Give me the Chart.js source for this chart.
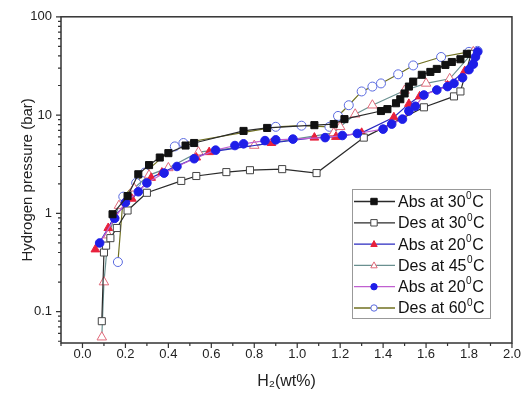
<!DOCTYPE html>
<html>
<head>
<meta charset="utf-8">
<script src="https://cdn.jsdelivr.net/npm/chart.js@4.4.1/dist/chart.umd.min.js"></script>
<style>
  html, body { margin: 0; padding: 0; background: #fff; }
  #wrap { width: 525px; height: 397px; }
</style>
</head>
<body>
<div id="wrap"><canvas id="pct" width="525" height="397"></canvas></div>
<script>
// series names (⁰ is drawn as a raised small 0 in the legend)
const seriesNames = ['Abs at 30⁰C', 'Des at 30⁰C', 'Abs at 20⁰C', 'Des at 45⁰C', 'Abs at 20⁰C', 'Des at 60⁰C'];

// H2 wt% / pressure (bar)
const abs30X = [0.14, 0.21, 0.26, 0.31, 0.36, 0.40, 0.48, 0.52, 0.75, 0.86, 1.08, 1.17, 1.22, 1.39, 1.42, 1.46, 1.48, 1.50, 1.52, 1.54, 1.58, 1.62, 1.65, 1.69, 1.72, 1.76, 1.79];
const abs30P = [0.98, 1.5, 2.5, 3.1, 3.7, 4.1, 4.9, 5.2, 6.9, 7.4, 7.9, 8.1, 9.1, 11, 11.5, 13.2, 14.5, 16.6, 19.5, 21.9, 25.7, 27.5, 29.5, 32.4, 34.7, 37, 42];

const des30X = [0.09, 0.10, 0.11, 0.13, 0.16, 0.21, 0.30, 0.46, 0.53, 0.67, 0.78, 0.93, 1.09, 1.31, 1.59, 1.73, 1.76, 1.81];
const des30P = [0.08, 0.40, 0.47, 0.56, 0.71, 1.07, 1.62, 2.14, 2.4, 2.63, 2.75, 2.82, 2.57, 5.9, 12, 15.5, 17.4, 42];

const abs20tX = [0.06, 0.12, 0.15, 0.23, 0.32, 0.37, 0.53, 0.59, 0.88, 1.08, 1.18, 1.30, 1.45, 1.52, 1.57, 1.70, 1.78, 1.83];
const abs20tP = [0.43, 0.71, 0.95, 1.41, 2.3, 2.6, 3.7, 4.2, 5.2, 5.9, 6.0, 6.6, 9.5, 13, 15.5, 20, 28, 42];

const des45X = [0.09, 0.10, 0.12, 0.17, 0.24, 0.31, 0.40, 0.54, 0.80, 1.17, 1.20, 1.27, 1.35, 1.50, 1.60, 1.71, 1.82];
const des45P = [0.055, 0.2, 0.6, 1.2, 1.8, 2.45, 2.9, 4.2, 4.9, 6.6, 7.6, 10.2, 12.6, 17.8, 21, 23.4, 44];

const abs20cX = [0.08, 0.15, 0.20, 0.26, 0.30, 0.38, 0.44, 0.52, 0.62, 0.71, 0.75, 0.85, 0.90, 0.98, 1.13, 1.21, 1.28, 1.40, 1.44, 1.49, 1.52, 1.55, 1.59, 1.65, 1.70, 1.73, 1.77, 1.80, 1.82, 1.83, 1.84];
const abs20cP = [0.50, 0.89, 1.29, 1.66, 2.04, 2.57, 3.0, 3.6, 4.4, 4.9, 5.1, 5.5, 5.6, 5.7, 5.9, 6.2, 6.5, 7.2, 8.1, 9.1, 11, 12.3, 16, 18, 19.5, 21, 24, 29, 33, 39, 44];

const des60X = [0.165, 0.19, 0.25, 0.29, 0.43, 0.47, 0.90, 1.02, 1.15, 1.19, 1.24, 1.30, 1.35, 1.39, 1.47, 1.54, 1.67, 1.80, 1.84];
const des60P = [0.32, 1.48, 2.04, 2.6, 4.8, 5.2, 7.6, 7.8, 7.6, 9.8, 12.6, 17.4, 19.5, 21, 26, 32, 39, 44, 45];

// axis ticks
const xTicks = [0, 0.2, 0.4, 0.6, 0.8, 1.0, 1.2, 1.4, 1.6, 1.8, 2.0];
const xMinorTicks = [-0.1, 0.1, 0.3, 0.5, 0.7, 0.9, 1.1, 1.3, 1.5, 1.7, 1.9];
const yTicks = [0.1, 1, 10, 100];
const yMinorTicks = [0.05, 0.06, 0.07, 0.08, 0.09, 0.2, 0.3, 0.4, 0.5, 0.6, 0.7, 0.8, 0.9,
                     2, 3, 4, 5, 6, 7, 8, 9, 20, 30, 40, 50, 60, 70, 80, 90];

const FONT = '"Liberation Sans", Arial, Helvetica, sans-serif';

function pts(xs, ys) {
    return xs.map((v, i) => ({ x: v, y: ys[i] }));
}

// small marker painter, used for the legend samples
function marker(ctx, style, x, y, r, fill, stroke) {
    ctx.beginPath();
    if (style === 'rect') {
        ctx.rect(x - r, y - r, 2 * r, 2 * r);
    } else if (style === 'triangle') {
        ctx.moveTo(x, y - r * 1.1);
        ctx.lineTo(x + r, y + r * 0.75);
        ctx.lineTo(x - r, y + r * 0.75);
        ctx.closePath();
    } else {
        ctx.arc(x, y, r, 0, Math.PI * 2);
    }
    ctx.fillStyle = fill;
    ctx.fill();
    ctx.lineWidth = 1;
    ctx.strokeStyle = stroke;
    ctx.stroke();
}

// box frame + outward tick marks (major and minor)
const frameTicks = {
    id: 'frameTicks',
    afterDraw(chart) {
        const { ctx, chartArea: a, scales: { x, y } } = chart;
        ctx.save();
        ctx.strokeStyle = '#333';
        ctx.lineWidth = 1.5;
        ctx.strokeRect(a.left, a.top, a.right - a.left, a.bottom - a.top);
        ctx.lineWidth = 1.2;
        ctx.beginPath();
        xTicks.forEach(v => { const p = x.getPixelForValue(v); ctx.moveTo(p, a.bottom); ctx.lineTo(p, a.bottom + 5); });
        xMinorTicks.forEach(v => { const p = x.getPixelForValue(v); ctx.moveTo(p, a.bottom); ctx.lineTo(p, a.bottom + 3); });
        yTicks.forEach(v => { const p = y.getPixelForValue(v); ctx.moveTo(a.left, p); ctx.lineTo(a.left - 5, p); });
        yMinorTicks.forEach(v => { const p = y.getPixelForValue(v); ctx.moveTo(a.left, p); ctx.lineTo(a.left - 3, p); });
        ctx.stroke();
        ctx.restore();
    }
};

// legend box with line-marker-line samples
const boxLegend = {
    id: 'boxLegend',
    afterDraw(chart) {
        const ctx = chart.ctx;
        const left = 352, top = 189, w = 138, h = 129, rowH = 21.3;
        ctx.save();
        ctx.fillStyle = '#fff';
        ctx.fillRect(left, top, w, h);
        ctx.strokeStyle = '#999';
        ctx.lineWidth = 1;
        ctx.strokeRect(left + 0.5, top + 0.5, w, h);
        chart.data.datasets.forEach((ds, i) => {
            const cy = top + 12.5 + i * rowH;
            ctx.strokeStyle = ds.borderColor;
            ctx.lineWidth = 1.3;
            ctx.beginPath();
            ctx.moveTo(left + 2, cy);
            ctx.lineTo(left + 43, cy);
            ctx.stroke();
            marker(ctx, ds.pointStyle, left + 22, cy, 3.2, ds.pointBackgroundColor, ds.pointBorderColor);
            const parts = ds.label.split('⁰');
            let tx = left + 46;
            ctx.fillStyle = '#111';
            ctx.textBaseline = 'middle';
            ctx.textAlign = 'left';
            ctx.font = '16px ' + FONT;
            ctx.fillText(parts[0], tx, cy + 1);
            tx += ctx.measureText(parts[0]).width + 0.5;
            if (parts.length > 1) {
                ctx.font = '10px ' + FONT;
                ctx.fillText('0', tx, cy - 5);
                tx += ctx.measureText('0').width + 0.5;
                ctx.font = '16px ' + FONT;
                ctx.fillText(parts[1], tx, cy + 1);
            }
        });
        ctx.restore();
    }
};

function series(i, xs, ys, line, style, fill, stroke, r, order) {
    return {
        label: seriesNames[i],
        data: pts(xs, ys),
        borderColor: line,
        borderWidth: 1.2,
        pointStyle: style,
        pointRadius: r,
        pointHoverRadius: r,
        pointBackgroundColor: fill,
        pointBorderColor: stroke,
        pointBorderWidth: 1,
        tension: 0,
        fill: false,
        order: order
    };
}

new Chart(document.getElementById('pct'), {
    type: 'line',
    data: {
        datasets: [
            series(0, abs30X, abs30P, '#2a2a2a', 'rect', '#111', '#111', 5, 1),
            series(1, des30X, des30P, '#2a2a2a', 'rect', '#fff', '#444', 5, 3),
            series(2, abs20tX, abs20tP, '#2a2ac0', 'triangle', '#e8203c', '#e8203c', 5, 4),
            series(3, des45X, des45P, '#6a9090', 'triangle', '#fff', '#e06a7a', 5.5, 5),
            series(4, abs20cX, abs20cP, '#c060d0', 'circle', '#1e1ee8', '#1e1ee8', 4.3, 2),
            series(5, des60X, des60P, '#707020', 'circle', '#fff', '#5a6ae0', 4.5, 6)
        ]
    },
    options: {
        responsive: false,
        animation: false,
        devicePixelRatio: 1,
        layout: { padding: { top: 14, right: 12, left: 0, bottom: 0 } },
        plugins: {
            legend: { display: false },
            tooltip: { enabled: false }
        },
        scales: {
            x: {
                type: 'linear',
                min: -0.1,
                max: 2.0,
                afterFit(s) { s.height = 54; },
                afterBuildTicks(s) { s.ticks = xTicks.map(v => ({ value: v })); },
                grid: { display: false, drawTicks: false },
                border: { display: false },
                ticks: {
                    padding: 4,
                    color: '#222',
                    font: { family: FONT, size: 13 },
                    callback: v => v.toFixed(1)
                },
                title: {
                    display: true,
                    text: 'H₂(wt%)',
                    color: '#222',
                    font: { family: FONT, size: 16 },
                    padding: { top: 0, bottom: 6 }
                }
            },
            y: {
                type: 'logarithmic',
                min: 0.048,
                max: 100,
                afterFit(s) { s.width = 61; },
                afterBuildTicks(s) { s.ticks = yTicks.map(v => ({ value: v })); },
                grid: { display: false, drawTicks: false },
                border: { display: false },
                ticks: {
                    padding: 9,
                    color: '#222',
                    font: { family: FONT, size: 13 },
                    callback: v => String(v)
                },
                title: {
                    display: true,
                    text: 'Hydrogen pressure (bar)',
                    color: '#222',
                    font: { family: FONT, size: 15 },
                    padding: { top: 19, bottom: 0 }
                }
            }
        }
    },
    plugins: [frameTicks, boxLegend]
});
</script>
</body>
</html>
